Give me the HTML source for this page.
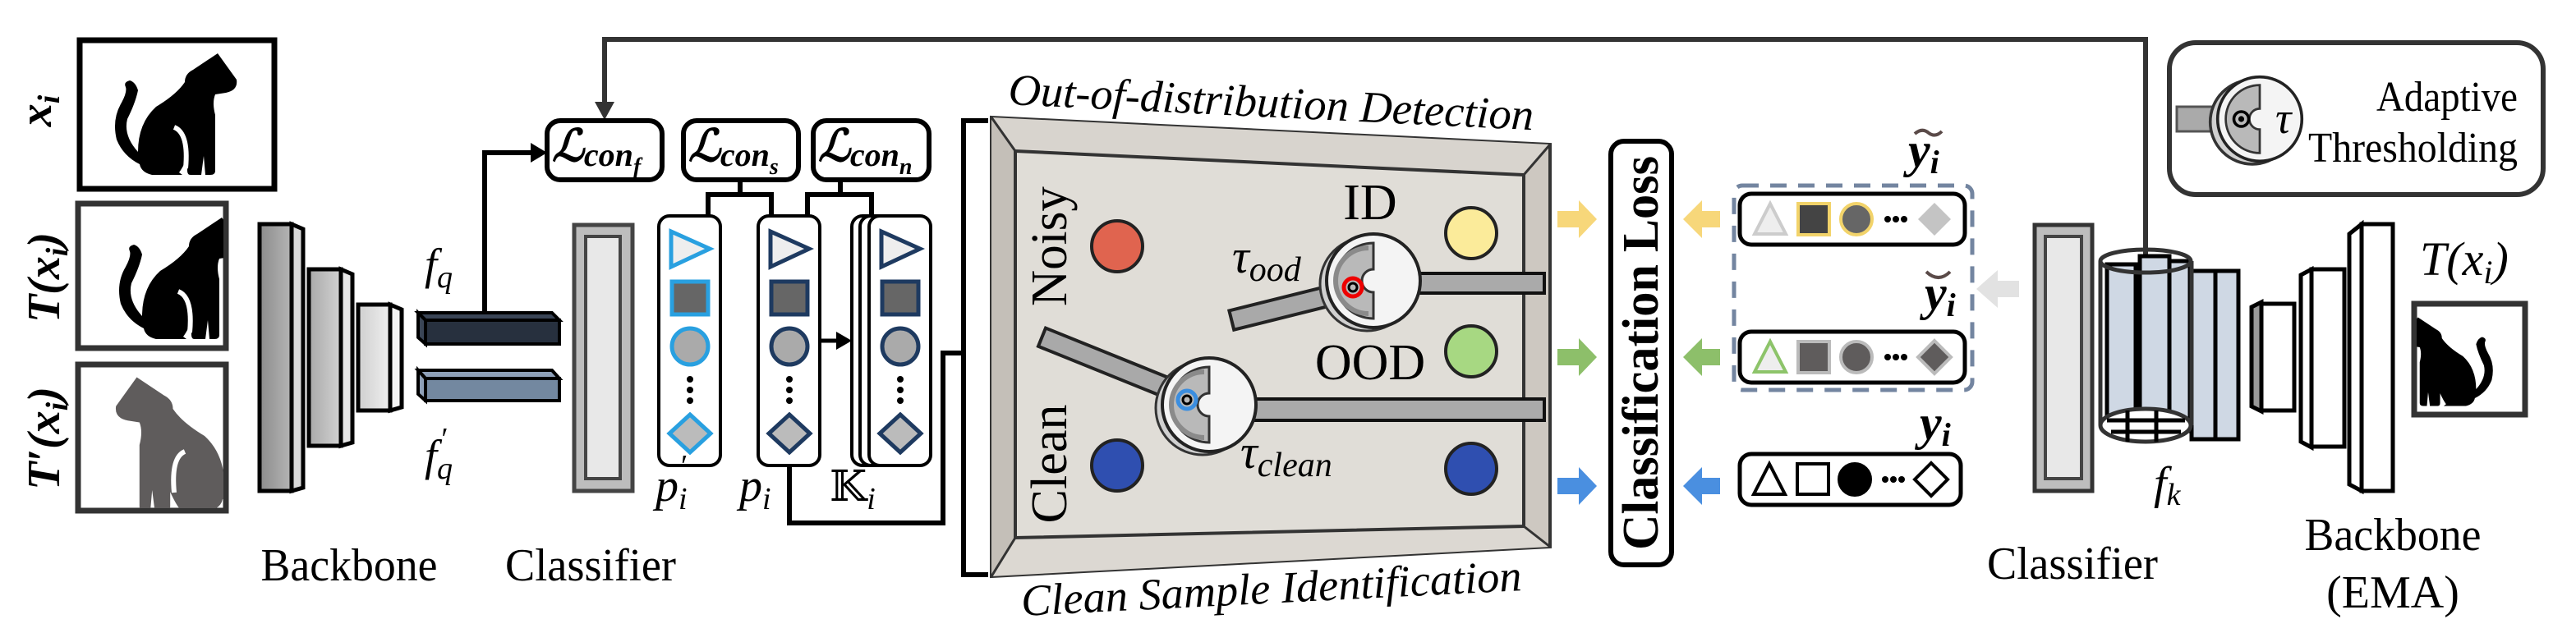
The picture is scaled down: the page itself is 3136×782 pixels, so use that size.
<!DOCTYPE html>
<html><head><meta charset="utf-8"><style>
html,body{margin:0;padding:0;background:#fff;}
svg{display:block;font-family:"Liberation Serif","DejaVu Serif","Noto Serif CJK SC",serif;}
svg text, svg tspan{font-family:"Liberation Serif","DejaVu Serif","Noto Serif CJK SC",serif;}
</style></head><body>
<svg width="3136" height="782" viewBox="0 0 3136 782" xmlns="http://www.w3.org/2000/svg">
<defs>
<clipPath id="cb2"><rect x="98" y="251" width="174" height="170"/></clipPath>
<clipPath id="cb3"><rect x="98" y="447" width="174" height="172"/></clipPath>
<clipPath id="cb4"><rect x="2942" y="373" width="129" height="129"/></clipPath>
<linearGradient id="g1" x1="0" x2="1"><stop offset="0" stop-color="#8c8c8c"/><stop offset="1" stop-color="#b5b5b5"/></linearGradient>
<linearGradient id="g2" x1="0" x2="1"><stop offset="0" stop-color="#a9a9a9"/><stop offset="1" stop-color="#d2d2d2"/></linearGradient>
<linearGradient id="g3" x1="0" x2="1"><stop offset="0" stop-color="#cfcfcf"/><stop offset="1" stop-color="#efefef"/></linearGradient>
<g id="cat">
<path d="M265,65 L288,97 Q290,110 275,113 L262,115 Q258,125 262,140 L262,208 Q262,213 256,213 L250,213 L248,190 L245,213 L232,213 Q228,213 228,208 L228,192 Q222,205 218,210 L222,213 L185,213 Q172,210 170,200 Q150,190 142,170 Q136,145 148,125 Q155,112 153,106 Q150,100 158,98 Q165,100 168,110 Q165,125 155,145 Q150,165 168,185 Q168,150 190,130 Q215,115 225,100 Q225,90 235,85 Z"/>
</g>
<g id="knob">
<circle cx="-8" cy="4" r="57" fill="#d0d0d0" stroke="#333" stroke-width="3"/>
<circle cx="0" cy="0" r="57" fill="#f4f4f4" stroke="#222" stroke-width="4"/>
<path d="M0,-46 A46,46 0 0,0 0,46 L0,14 A14,14 0 0,1 0,-14 Z" fill="#b9b9b9" stroke="#333" stroke-width="3"/>
<path d="M-6,-40 A40,40 0 0,0 -6,40" fill="none" stroke="#8a8a8a" stroke-width="6"/>
</g>
</defs>

<path d="M736,137 V48 H2612 V310" fill="none" stroke="#333" stroke-width="6"/>
<polygon points="724,124 748,124 736,146" fill="#333"/>

<rect x="97" y="49" width="237" height="181" fill="#fff" stroke="#000" stroke-width="7"/>
<use href="#cat" fill="#000"/>
<path d="M212,155 Q230,162 226,205" fill="none" stroke="#fff" stroke-width="6"/>
<rect x="95" y="248" width="180" height="176" fill="#fff" stroke="#333" stroke-width="7"/>
<g clip-path="url(#cb2)"><use href="#cat" fill="#000" transform="translate(5,200)"/><path d="M217,355 Q235,362 231,405" fill="none" stroke="#fff" stroke-width="6"/></g>
<rect x="95" y="444" width="180" height="178" fill="#fff" stroke="#333" stroke-width="7"/>
<g clip-path="url(#cb3)"><use href="#cat" fill="#5f5c5c" transform="translate(458,388) scale(-1.1,1.1)"/><path d="M225,550 Q208,557 212,600" fill="none" stroke="#fff" stroke-width="6"/></g>
<rect x="2939" y="370" width="135" height="135" fill="#fff" stroke="#333" stroke-width="7"/>
<g clip-path="url(#cb4)"><use href="#cat" fill="#000" transform="translate(3137,339) scale(-0.73,0.73)"/></g>

<text transform="translate(62,135) rotate(-90)" font-size="56" font-style="italic" font-weight="bold" text-anchor="middle">x<tspan font-size="38" dy="10">i</tspan></text>
<text transform="translate(72,338) rotate(-90)" font-size="56" font-style="italic" font-weight="bold" text-anchor="middle">T(x<tspan font-size="38" dy="10">i</tspan><tspan dy="-10">)</tspan></text>
<text transform="translate(72,534) rotate(-90)" font-size="56" font-style="italic" font-weight="bold" text-anchor="middle">T′(x<tspan font-size="38" dy="10">i</tspan><tspan dy="-10">)</tspan></text>

<g stroke="#000" stroke-width="5">
<polygon points="355,273 369,279 369,594 355,598" fill="#d8d8d8"/>
<rect x="316" y="273" width="39" height="325" fill="url(#g1)"/>
<polygon points="415,328 429,334 429,539 415,543" fill="#e6e6e6"/>
<rect x="376" y="328" width="39" height="215" fill="url(#g2)"/>
<polygon points="475,371 489,377 489,496 475,500" fill="#f4f4f4"/>
<rect x="436" y="371" width="39" height="129" fill="url(#g3)"/>
</g>
<g stroke="#000" stroke-width="4">
<polygon points="509,381 672,381 681,390 518,390" fill="#3a4556"/>
<polygon points="509,381 518,390 518,419 509,411" fill="#3a4556"/>
<rect x="518" y="390" width="163" height="29" fill="#27303e"/>
<polygon points="509,451 672,451 681,461 518,461" fill="#8ea0b8"/>
<polygon points="509,451 518,461 518,488 509,480" fill="#8ea0b8"/>
<rect x="518" y="461" width="163" height="27" fill="#7388a0"/>
</g>
<path d="M590,381 V186 H650" fill="none" stroke="#000" stroke-width="6"/>
<polygon points="646,174 666,186 646,198" fill="#000"/>
<text x="517" y="340" font-size="54" font-style="italic">f<tspan font-size="38" dy="10">q</tspan></text>
<text x="517" y="573" font-size="54" font-style="italic">f<tspan font-size="38" dy="10">q</tspan><tspan font-size="38" dx="-16" dy="-36">′</tspan></text>

<rect x="699" y="274" width="71" height="324" fill="#bdbdbd" stroke="#444" stroke-width="5"/>
<rect x="713" y="288" width="42" height="295" fill="#e8e8e8" stroke="#444" stroke-width="4"/>

<g fill="#fff" stroke="#000" stroke-width="6">
<rect x="666" y="147" width="140" height="72" rx="16"/>
<rect x="832" y="147" width="140" height="72" rx="16"/>
<rect x="990" y="147" width="141" height="72" rx="16"/>
</g>
<g font-size="54" font-style="italic" font-weight="bold">
<text x="672" y="196">ℒ<tspan font-size="40" dy="6">con</tspan><tspan font-size="28" dy="10">f</tspan></text>
<text x="838" y="196">ℒ<tspan font-size="40" dy="6">con</tspan><tspan font-size="28" dy="10">s</tspan></text>
<text x="996" y="196">ℒ<tspan font-size="40" dy="6">con</tspan><tspan font-size="28" dy="10">n</tspan></text>
</g>
<path d="M901,219 V237 M862,263 V237 H939 V263 M1023,219 V237 M983,263 V237 H1061 V263" fill="none" stroke="#000" stroke-width="6"/>

<g fill="#fff" stroke="#000" stroke-width="4">
<rect x="802" y="263" width="75" height="304" rx="13"/>
<rect x="923" y="263" width="75" height="304" rx="13"/>
<rect x="1037" y="263" width="75" height="304" rx="13"/>
<rect x="1047" y="263" width="75" height="304" rx="13"/>
<rect x="1058" y="263" width="75" height="304" rx="13"/>
</g>
<g stroke-width="5">
<g stroke="#29a0e0">
<polygon points="817,282 817,325 864,303" fill="#eee"/>
<rect x="818" y="343" width="44" height="40" fill="#666"/>
<circle cx="840" cy="422" r="22" fill="#aaa"/>
<polygon points="840,505 865,528 840,551 815,528" fill="#bbb"/>
</g>
<g stroke="#1e3a60">
<polygon points="938,282 938,325 985,303" fill="#eee"/>
<rect x="939" y="343" width="44" height="40" fill="#666"/>
<circle cx="961" cy="422" r="22" fill="#aaa"/>
<polygon points="961,505 986,528 961,551 936,528" fill="#bbb"/>
<polygon points="1073,282 1073,325 1120,303" fill="#eee"/>
<rect x="1074" y="343" width="44" height="40" fill="#666"/>
<circle cx="1096" cy="422" r="22" fill="#aaa"/>
<polygon points="1096,505 1121,528 1096,551 1071,528" fill="#bbb"/>
</g>
</g>
<g fill="#000">
<circle cx="840" cy="462" r="4"/><circle cx="840" cy="475" r="4"/><circle cx="840" cy="488" r="4"/>
<circle cx="961" cy="462" r="4"/><circle cx="961" cy="475" r="4"/><circle cx="961" cy="488" r="4"/>
<circle cx="1096" cy="462" r="4"/><circle cx="1096" cy="475" r="4"/><circle cx="1096" cy="488" r="4"/>
</g>
<path d="M998,415 H1022" stroke="#000" stroke-width="5"/>
<polygon points="1018,404 1037,415 1018,426" fill="#000"/>
<path d="M961,567 V637 H1148 V430 H1173" fill="none" stroke="#000" stroke-width="6"/>
<path d="M1203,147 H1173 V700 H1203" fill="none" stroke="#000" stroke-width="6"/>
<text x="798" y="610" font-size="56" font-style="italic">p<tspan font-size="38" dy="10">i</tspan><tspan font-size="38" dx="-10" dy="-40">′</tspan></text>
<text x="900" y="610" font-size="56" font-style="italic">p<tspan font-size="38" dy="10">i</tspan></text>
<text x="1010" y="610" font-size="52">𝕂<tspan font-size="38" font-style="italic" dy="10">i</tspan></text>
<text x="425" y="707" font-size="56" text-anchor="middle" textLength="215" lengthAdjust="spacingAndGlyphs">Backbone</text>
<text x="719" y="707" font-size="56" text-anchor="middle" textLength="208" lengthAdjust="spacingAndGlyphs">Classifier</text>

<polygon points="1207,143 1887,176 1887,666 1207,702" fill="#cdc8c1" stroke="#333" stroke-width="4"/>
<polygon points="1207,143 1887,176 1855,213 1236,184" fill="#d8d4ce"/>
<polygon points="1207,143 1236,184 1236,655 1207,702" fill="#c4bfb8"/>
<polygon points="1207,702 1236,655 1855,641 1887,666" fill="#dcd8d2"/>
<path d="M1207,143 L1236,184 M1887,176 L1855,213 M1887,666 L1855,641 M1207,702 L1236,655" stroke="#333" stroke-width="3"/>
<polygon points="1236,184 1855,213 1855,641 1236,655" fill="#e0ddd7" stroke="#333" stroke-width="4"/>
<text transform="translate(1227,127) rotate(2.8)" font-size="54" font-style="italic" textLength="640" lengthAdjust="spacingAndGlyphs">Out-of-distribution Detection</text>
<text transform="translate(1244,750) rotate(-2.9)" font-size="54" font-style="italic" textLength="610" lengthAdjust="spacingAndGlyphs">Clean Sample Identification</text>
<text transform="translate(1298,300) rotate(-90)" font-size="62" text-anchor="middle" textLength="146" lengthAdjust="spacingAndGlyphs">Noisy</text>
<text transform="translate(1298,565) rotate(-90)" font-size="62" text-anchor="middle" textLength="145" lengthAdjust="spacingAndGlyphs">Clean</text>
<g stroke="#222" stroke-width="4">
<circle cx="1360" cy="300" r="31" fill="#e0644f"/>
<circle cx="1360" cy="567" r="31" fill="#2f4fb0"/>
<circle cx="1791" cy="284" r="31" fill="#fbeb9a"/>
<circle cx="1791" cy="428" r="31" fill="#a7d882"/>
<circle cx="1791" cy="571" r="31" fill="#2f4fb0"/>
</g>
<text x="1668" y="267" font-size="62" text-anchor="middle">ID</text>
<text x="1668" y="462" font-size="62" text-anchor="middle">OOD</text>
<rect x="1690" y="333" width="190" height="24" fill="#aaa" stroke="#111" stroke-width="4"/>
<rect x="1500" y="486" width="380" height="26" fill="#aaa" stroke="#111" stroke-width="4"/>
<g transform="translate(1640,355) rotate(-14)"><rect x="-145" y="-12" width="150" height="24" fill="#a9a9a9" stroke="#222" stroke-width="4"/></g>
<g transform="translate(1440,480) rotate(22)"><rect x="-185" y="-12" width="190" height="24" fill="#a9a9a9" stroke="#222" stroke-width="4"/></g>
<use href="#knob" transform="translate(1672,342)"/>
<use href="#knob" transform="translate(1472,493)"/>
<circle cx="1647" cy="350" r="11" fill="none" stroke="#e00" stroke-width="5"/><circle cx="1647" cy="350" r="5" fill="none" stroke="#000" stroke-width="3"/>
<circle cx="1445" cy="487" r="11" fill="none" stroke="#3b8ee0" stroke-width="5"/><circle cx="1445" cy="487" r="5" fill="none" stroke="#000" stroke-width="3"/>
<text x="1500" y="332" font-size="58" font-style="italic">τ<tspan font-size="42" dy="10">ood</tspan></text>
<text x="1510" y="570" font-size="58" font-style="italic">τ<tspan font-size="42" dy="10">clean</tspan></text>

<g>
<polygon points="1896,257 1922,257 1922,244 1944,267 1922,290 1922,277 1896,277" fill="#f7d77a"/>
<polygon points="1896,425 1922,425 1922,412 1944,435 1922,458 1922,445 1896,445" fill="#8dbf6a"/>
<polygon points="1896,582 1922,582 1922,569 1944,592 1922,615 1922,602 1896,602" fill="#4a8fe0"/>
<polygon points="2094,257 2072,257 2072,244 2049,267 2072,290 2072,277 2094,277" fill="#f7d77a"/>
<polygon points="2094,425 2072,425 2072,412 2049,435 2072,458 2072,445 2094,445" fill="#8dbf6a"/>
<polygon points="2094,582 2072,582 2072,569 2049,592 2072,615 2072,602 2094,602" fill="#4a8fe0"/>
<polygon points="2458,342 2432,342 2432,329 2406,352 2432,375 2432,362 2458,362" fill="#e2e2e2"/>
</g>

<rect x="1961" y="172" width="74" height="516" rx="16" fill="#fff" stroke="#000" stroke-width="6"/>
<text transform="translate(2018,430) rotate(-90)" font-size="62" font-weight="bold" text-anchor="middle" textLength="480" lengthAdjust="spacingAndGlyphs">Classification Loss</text>

<rect x="2111" y="226" width="290" height="249" rx="10" fill="none" stroke="#7385a0" stroke-width="5" stroke-dasharray="20,14"/>
<g fill="#fff" stroke="#000" stroke-width="5">
<rect x="2118" y="236" width="274" height="62" rx="14"/>
<rect x="2118" y="404" width="274" height="62" rx="14"/>
<rect x="2118" y="553" width="269" height="62" rx="14"/>
</g>
<g stroke-width="4">
<polygon points="2155,248 2174,285 2136,285" fill="#eee" stroke="#ccc"/>
<rect x="2189" y="248" width="38" height="38" fill="#444" stroke="#f2d36a"/>
<circle cx="2260" cy="267" r="19" fill="#666" stroke="#f2d36a"/>
<polygon points="2355,247 2375,267 2355,287 2335,267" fill="#c4c4c4"/>
<polygon points="2155,416 2174,453 2136,453" fill="#eee" stroke="#8dc46a"/>
<rect x="2189" y="416" width="38" height="38" fill="#5f5c5c" stroke="#bbb"/>
<circle cx="2260" cy="435" r="19" fill="#5f5c5c" stroke="#bbb"/>
<polygon points="2355,415 2375,435 2355,455 2335,435" fill="#5f5c5c" stroke="#bbb"/>
<polygon points="2154,565 2173,602 2135,602" fill="#fff" stroke="#000"/>
<rect x="2188" y="565" width="38" height="37" fill="#fff" stroke="#000"/>
<circle cx="2258" cy="584" r="19" fill="#000" stroke="#000"/>
<polygon points="2351,564 2371,584 2351,604 2331,584" fill="#fff" stroke="#000"/>
</g>
<g fill="#000">
<circle cx="2298" cy="267" r="4"/><circle cx="2308" cy="267" r="4"/><circle cx="2318" cy="267" r="4"/>
<circle cx="2298" cy="435" r="4"/><circle cx="2308" cy="435" r="4"/><circle cx="2318" cy="435" r="4"/>
<circle cx="2295" cy="584" r="4"/><circle cx="2305" cy="584" r="4"/><circle cx="2315" cy="584" r="4"/>
</g>
<text x="2323" y="203" font-size="60" font-style="italic" font-weight="bold">y<tspan font-size="40" dy="8">i</tspan></text>
<path d="M2331,163 Q2340,155 2348,162 Q2356,168 2364,160" fill="none" stroke="#5a4a48" stroke-width="4"/>
<text x="2343" y="377" font-size="60" font-style="italic" font-weight="bold">y<tspan font-size="40" dy="8">i</tspan></text>
<path d="M2345,331 Q2360,345 2374,331" fill="none" stroke="#5a4a48" stroke-width="4"/>
<text x="2337" y="535" font-size="60" font-style="italic" font-weight="bold">y<tspan font-size="40" dy="8">i</tspan></text>

<rect x="2477" y="274" width="70" height="324" fill="#bdbdbd" stroke="#333" stroke-width="5"/>
<rect x="2490" y="288" width="44" height="295" fill="#e8e8e8" stroke="#444" stroke-width="4"/>

<g stroke="#000" stroke-width="5" fill="#cfd8e4">
<rect x="2697" y="330" width="28" height="205"/>
<rect x="2668" y="330" width="29" height="205"/>
<rect x="2565" y="322" width="35" height="205"/>
<rect x="2605" y="312" width="36" height="210"/>
<rect x="2641" y="318" width="25" height="207"/>
</g>
<ellipse cx="2612" cy="318" rx="55" ry="14" fill="none" stroke="#333" stroke-width="5"/>
<path d="M2557,318 V518 M2668,318 V518" stroke="#333" stroke-width="5"/>
<ellipse cx="2612" cy="518" rx="55" ry="20" fill="#fff" stroke="#333" stroke-width="5"/>
<path d="M2565,512 H2660 M2570,526 H2655 M2590,500 V538 M2625,500 V538" stroke="#000" stroke-width="5"/>
<text x="2622" y="607" font-size="56" font-style="italic">f<tspan font-size="38" dy="8">k</tspan></text>

<g stroke="#000" stroke-width="5">
<polygon points="2741,374 2753,368 2753,501 2741,495" fill="#999"/>
<rect x="2753" y="370" width="40" height="130" fill="#fff"/>
<polygon points="2801,335 2814,328 2814,545 2801,538" fill="#fff"/>
<rect x="2814" y="328" width="40" height="216" fill="#fff"/>
<polygon points="2860,285 2875,273 2875,598 2860,590" fill="#fff"/>
<rect x="2875" y="273" width="38" height="325" fill="#fff"/>
</g>
<text x="2946" y="335" font-size="58" font-style="italic">T(x<tspan font-size="40" dy="10">i</tspan><tspan dy="-10">)</tspan></text>
<text x="2523" y="705" font-size="56" text-anchor="middle" textLength="208" lengthAdjust="spacingAndGlyphs">Classifier</text>
<text x="2913" y="670" font-size="56" text-anchor="middle" textLength="215" lengthAdjust="spacingAndGlyphs">Backbone</text>
<text x="2913" y="740" font-size="56" text-anchor="middle">(EMA)</text>

<rect x="2641" y="52" width="455" height="185" rx="32" fill="#fff" stroke="#333" stroke-width="6"/>
<rect x="2650" y="130" width="66" height="30" fill="#aaa" stroke="#555" stroke-width="3"/>
<g transform="translate(2751,145) scale(0.9)">
<circle cx="-10" cy="4" r="57" fill="#d0d0d0" stroke="#333" stroke-width="4"/>
<circle cx="0" cy="0" r="57" fill="#f4f4f4" stroke="#222" stroke-width="4"/>
<path d="M0,-46 A46,46 0 0,0 0,46 L0,14 A14,14 0 0,1 0,-14 Z" fill="#b9b9b9" stroke="#333" stroke-width="3"/>
<circle cx="-25" cy="0" r="10" fill="none" stroke="#000" stroke-width="4"/><circle cx="-25" cy="0" r="4" fill="#000"/>
</g>
<text x="2770" y="162" font-size="54" font-style="italic">τ</text>
<text x="3065" y="135" font-size="52" text-anchor="end" textLength="172" lengthAdjust="spacingAndGlyphs">Adaptive</text>
<text x="3065" y="197" font-size="52" text-anchor="end" textLength="255" lengthAdjust="spacingAndGlyphs">Thresholding</text>
</svg>
</body></html>
